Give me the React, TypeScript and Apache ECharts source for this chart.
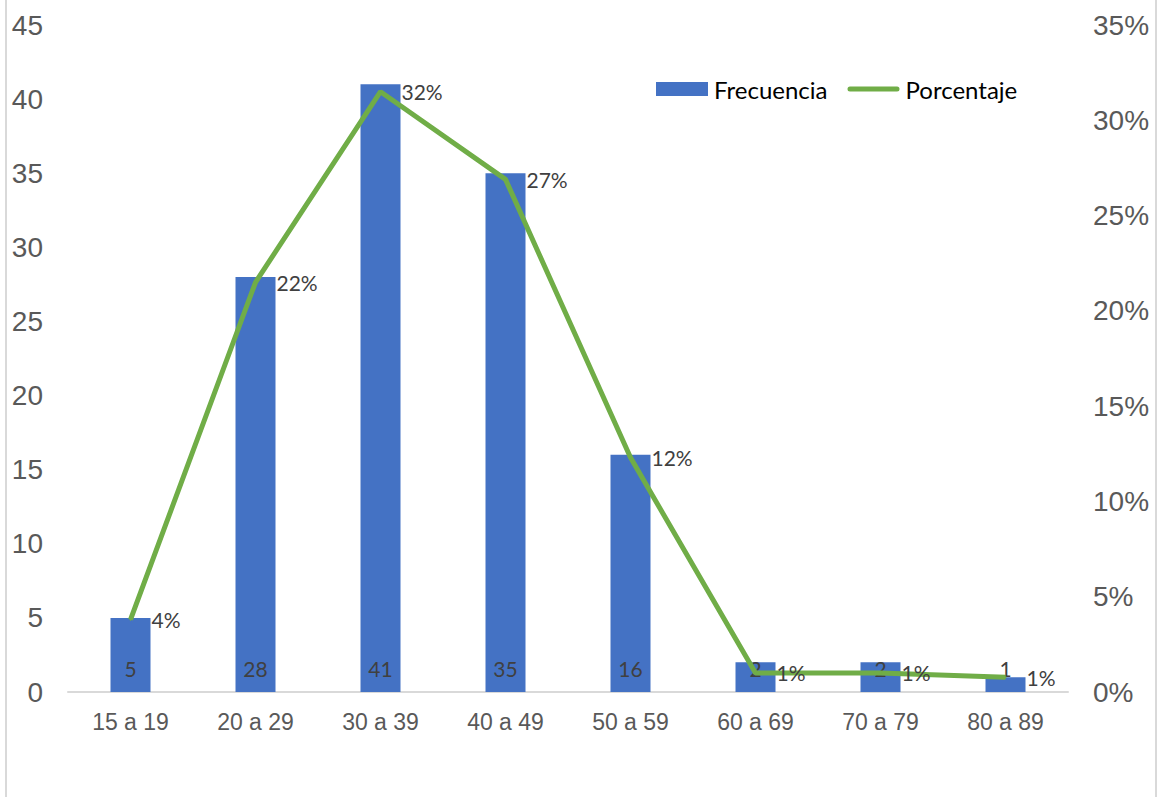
import React, { useEffect, useRef } from "react";
import * as echarts from "echarts";

// Age groups and counts per group
const categories = ["15 a 19", "20 a 29", "30 a 39", "40 a 49", "50 a 59", "60 a 69", "70 a 79", "80 a 89"];
const frecuencia = [5, 28, 41, 35, 16, 2, 2, 1];
const porcentaje = [0.038, 0.215, 0.315, 0.269, 0.123, 0.01, 0.01, 0.0077];

const blue = "#4472C4";
const green = "#70AD47";
const axisText = "#595959";
const labelText = "#404040";

// thin rounded bar used as the line's legend key (sliver on the left keeps the box 14 high)
const lineKey =
  "path://M0,0 L0.01,0 L0.01,14 L0,14 Z M2.5,4.5 L49.5,4.5 A2.5,2.5 0 0 1 49.5,9.5 L2.5,9.5 A2.5,2.5 0 0 1 2.5,4.5 Z";

export default function App() {
  const ref = useRef<HTMLDivElement>(null);

  useEffect(() => {
    if (!ref.current) return;
    const chart = echarts.init(ref.current, undefined, { renderer: "svg" });
    chart.setOption({
      animation: false,
      backgroundColor: "#ffffff",
      graphic: [
        {
          type: "rect",
          shape: { x: 6, y: -10, width: 1150, height: 820 },
          style: { fill: "none", stroke: "#D9D9D9", lineWidth: 2 },
          silent: true,
          z: -1,
        },
      ],
      grid: { left: 68, right: 93, top: 25, bottom: 105, containLabel: false },
      legend: {
        left: 651,
        top: 72,
        itemGap: 20,
        itemWidth: 52,
        itemHeight: 14,
        textStyle: { fontFamily: "Lato", fontSize: 24, color: "#000000", padding: [0, 0, 0, 1] },
        data: [
          { name: "Frecuencia", icon: "rect" },
          { name: "Porcentaje", icon: lineKey, itemStyle: { color: green } },
        ],
      },
      xAxis: {
        type: "category",
        data: categories,
        axisLine: { show: true, lineStyle: { color: "#D9D9D9", width: 2 } },
        axisTick: { show: false },
        axisLabel: { color: axisText, fontFamily: "Liberation Sans", fontSize: 23, margin: 18 },
      },
      yAxis: [
        {
          type: "value",
          min: 0,
          max: 45,
          interval: 5,
          splitLine: { show: false },
          axisLine: { show: false },
          axisTick: { show: false },
          axisLabel: { color: axisText, fontFamily: "Liberation Sans", fontSize: 28, margin: 25 },
        },
        {
          type: "value",
          min: 0,
          max: 0.35,
          interval: 0.05,
          splitLine: { show: false },
          axisLine: { show: false },
          axisTick: { show: false },
          axisLabel: {
            color: axisText,
            fontFamily: "Liberation Sans",
            fontSize: 28,
            margin: 25,
            formatter: (v: number) => Math.round(v * 100) + "%",
          },
        },
      ],
      series: [
        {
          name: "Frecuencia",
          type: "bar",
          data: frecuencia,
          barWidth: 40,
          itemStyle: { color: blue },
          label: {
            show: true,
            position: "insideBottom",
            distance: 13,
            color: labelText,
            fontFamily: "Lato",
            fontSize: 21,
          },
        },
        {
          name: "Porcentaje",
          type: "line",
          yAxisIndex: 1,
          data: porcentaje,
          symbol: "circle",
          symbolSize: 2,
          showSymbol: true,
          itemStyle: { color: green },
          lineStyle: { color: green, width: 5 },
          z: 3,
          label: {
            show: true,
            position: "right",
            distance: 20,
            color: labelText,
            fontFamily: "Lato",
            fontSize: 21,
            formatter: (p: any) => Math.round(p.value * 100) + "%",
          },
        },
      ],
    });
    return () => chart.dispose();
  }, []);

  return (
    <div
      ref={ref}
      style={{ position: "absolute", left: 0, top: 0, width: 1161, height: 797 }}
    />
  );
}
